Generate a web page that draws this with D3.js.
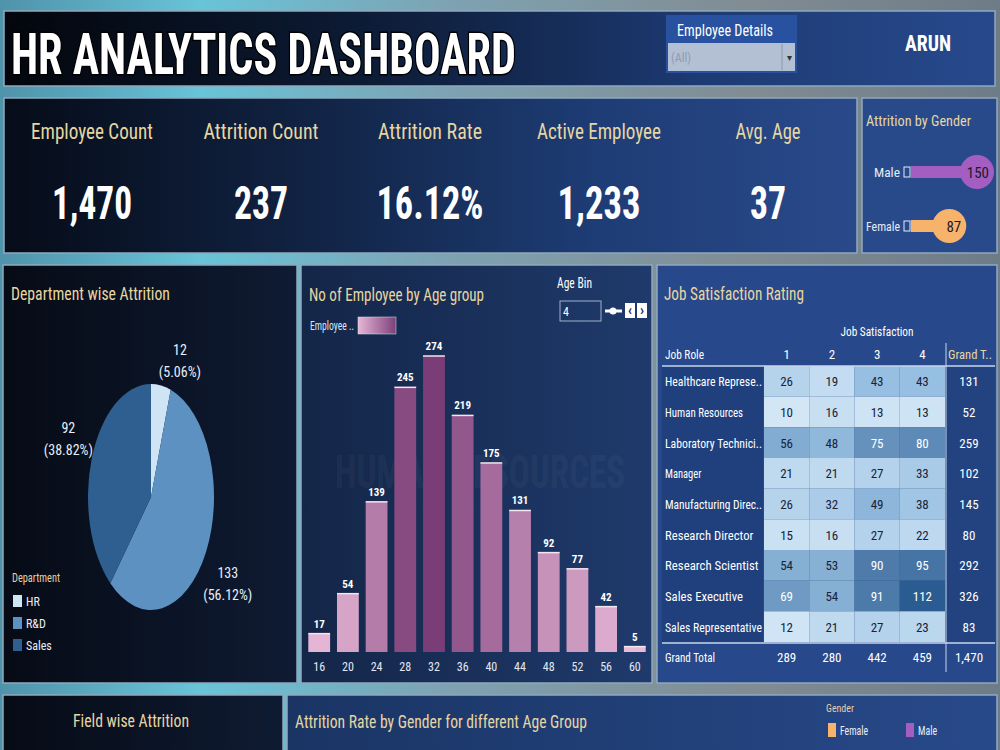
<!DOCTYPE html>
<html>
<head>
<meta charset="utf-8">
<script src="https://cdn.jsdelivr.net/npm/d3@7"></script>
<style>
  body { margin: 0; background: #6f8a9c; }
  svg { display: block; }
  text { font-family: "Roboto Condensed", "Liberation Sans Narrow", Roboto, sans-serif; }
</style>
</head>
<body>
<script>
// ---- data ----
const kpiLabels = ['Employee Count', 'Attrition Count', 'Attrition Rate', 'Active Employee', 'Avg. Age'];
const kpiValues = ['1,470', '237', '16.12%', '1,233', '37'];

const genders = ['Male', 'Female'];
const genderAttrition = [150, 87];

const departments = ['HR', 'R&D', 'Sales'];
const deptAttrition = [12, 133, 92];
const deptPct = ['5.06%', '56.12%', '38.82%'];

const ageBins = [16, 20, 24, 28, 32, 36, 40, 44, 48, 52, 56, 60];
const ageCounts = [17, 54, 139, 245, 274, 219, 175, 131, 92, 77, 42, 5];

const jobRoles = ['Healthcare Represe..', 'Human Resources', 'Laboratory Technici..', 'Manager',
  'Manufacturing Direc..', 'Research Director', 'Research Scientist', 'Sales Executive', 'Sales Representative'];
const satLevels = ['1', '2', '3', '4'];
const satValues = [
  [26, 19, 43, 43],
  [10, 16, 13, 13],
  [56, 48, 75, 80],
  [21, 21, 27, 33],
  [26, 32, 49, 38],
  [15, 16, 27, 22],
  [54, 53, 90, 95],
  [69, 54, 91, 112],
  [12, 21, 27, 23]
];
const rowTotals = [131, 52, 259, 102, 145, 80, 292, 326, 83];
const colTotals = [289, 280, 442, 459];
const grandTotal = '1,470';

// text widths (layout only) for the condensed dashboard font
const kpiLabelW = [122, 115, 104, 124, 65];
const kpiValueW = [80, 54, 107, 83, 36];

const W = 1000, H = 750;
const gold = '#e6d6a2';

const svg = d3.select('body').append('svg').attr('width', W).attr('height', H);
const defs = svg.append('defs');

function hGrad(id, stops) {
  const g = defs.append('linearGradient').attr('id', id).attr('x1', 0).attr('x2', 1).attr('y1', 0).attr('y2', 0);
  stops.forEach(s => g.append('stop').attr('offset', s[0]).attr('stop-color', s[1]));
}
hGrad('bgGrad', [[0, '#4f93aa'], [0.2, '#68c4d8'], [0.45, '#7ea2b2'], [0.75, '#818c93'], [1, '#6e7c88']]);
hGrad('titleGrad', [[0, '#03060c'], [0.35, '#0c1a33'], [0.7, '#1d3a72'], [1, '#27498c']]);
hGrad('kpiGrad', [[0, '#060c18'], [0.3, '#0f1f3c'], [0.7, '#1e3d76'], [1, '#29498a']]);
hGrad('ageGrad', [[0, '#142648'], [1, '#1f3a6c']]);
hGrad('deptGrad', [[0, '#060b15'], [1, '#0f1b33']]);
hGrad('botLGrad', [[0, '#060b15'], [1, '#0f1b33']]);
hGrad('botRGrad', [[0, '#1a3564'], [1, '#28498a']]);
hGrad('legGrad', [[0, '#e7b6d6'], [1, '#7d3f7a']]);

svg.append('rect').attr('width', W).attr('height', H).attr('fill', 'url(#bgGrad)');

// helper for text; len squeezes the text to the reference width
function txt(x, y, s, size, fill, opts = {}) {
  const t = svg.append('text').attr('x', x).attr('y', y).attr('font-size', size).attr('fill', fill)
    .attr('text-anchor', opts.anchor || 'start').text(s);
  if (opts.bold) t.attr('font-weight', 'bold');
  if (opts.len) t.attr('textLength', opts.len).attr('lengthAdjust', 'spacingAndGlyphs');
  return t;
}

function panel(x, y, w, h, fill) {
  svg.append('rect').attr('x', x).attr('y', y).attr('width', w).attr('height', h)
    .attr('fill', fill).attr('stroke', '#8fa9bd').attr('stroke-width', 1.5);
}
panel(4, 11, 991, 75, 'url(#titleGrad)');
panel(4, 98, 853, 155, 'url(#kpiGrad)');
panel(862, 98, 135, 155, '#284a8a');
panel(3, 265, 294, 418, 'url(#deptGrad)');
panel(301, 265, 351, 418, 'url(#ageGrad)');
panel(657, 265, 340, 418, '#27488a');
panel(3, 695, 280, 60, 'url(#botLGrad)');
panel(287, 695, 710, 60, 'url(#botRGrad)');

// ---- title bar ----
txt(11, 74, 'HR ANALYTICS DASHBOARD', 58, '#ffffff', { bold: true, len: 505 })
  .attr('stroke', '#000').attr('stroke-width', 3).attr('paint-order', 'stroke');

svg.append('rect').attr('x', 666).attr('y', 15).attr('width', 131).attr('height', 58).attr('fill', '#2852a0');
txt(677, 36, 'Employee Details', 16, '#ffffff', { len: 96 });
svg.append('rect').attr('x', 668).attr('y', 43).attr('width', 127).attr('height', 28).attr('fill', '#b3c0d4');
svg.append('line').attr('x1', 782).attr('x2', 782).attr('y1', 44).attr('y2', 70).attr('stroke', '#8c98ac');
txt(671, 62, '(All)', 12, '#8e9bb0');
txt(789, 61, '\u25BE', 10, '#333', { anchor: 'middle' });
txt(928, 51, 'ARUN', 22, '#ffffff', { anchor: 'middle', bold: true, len: 46 });

// ---- KPIs ----
const kpiX = d3.scalePoint().domain(kpiLabels).range([92, 768]);
kpiLabels.forEach((k, i) => {
  txt(kpiX(k), 139, k, 22, gold, { anchor: 'middle', len: kpiLabelW[i] });
  txt(kpiX(k), 219, kpiValues[i], 46, '#ffffff', { anchor: 'middle', bold: true, len: kpiValueW[i] });
});

// ---- attrition by gender ----
txt(866, 126, 'Attrition by Gender', 15, gold, { len: 105 });
const gY = d3.scalePoint().domain(genders).range([172, 226]);
const gX = d3.scaleLinear().domain([0, 150]).range([911, 977]);
const gColor = d3.scaleOrdinal().domain(genders).range(['#a45ec2', '#f7b26c']);
genders.forEach((g, i) => {
  const y = gY(g);
  txt(900, y + 5, g, 13, '#e6ecf6', { anchor: 'end', len: g === 'Male' ? 26 : 34 });
  svg.append('rect').attr('x', 904).attr('y', y - 5).attr('width', 6).attr('height', 10)
    .attr('fill', 'none').attr('stroke', '#e6ecf6').attr('stroke-width', 1);
  svg.append('rect').attr('x', gX(0)).attr('y', y - 6).attr('width', gX(genderAttrition[i]) - gX(0)).attr('height', 12)
    .attr('fill', gColor(g));
  svg.append('circle').attr('cx', gX(genderAttrition[i])).attr('cy', y).attr('r', 17).attr('fill', gColor(g));
  txt(gX(genderAttrition[i]) + 12, y + 6, genderAttrition[i], 15, '#1a1a2a', { anchor: 'end' });
});

// ---- department pie ----
txt(11, 300, 'Department wise Attrition', 19, gold, { len: 159 });
const deptColor = d3.scaleOrdinal().domain(departments).range(['#cfe5f6', '#5d91c2', '#2f5f90']);
const pie = d3.pie().sort(null).value(d => d.v);
const arcs = pie(departments.map((d, i) => ({ d, v: deptAttrition[i] })));
const cx = 151, cy = 497, rx = 63, ry = 113;
const arc = d3.arc().innerRadius(0).outerRadius(rx);
const pieG = svg.append('g').attr('transform', `translate(${cx},${cy}) scale(1,${ry / rx})`);
pieG.selectAll('path').data(arcs).enter().append('path')
  .attr('d', arc).attr('fill', d => deptColor(d.data.d));
arcs.forEach((a, i) => {
  const m = (a.startAngle + a.endAngle) / 2;
  let x = cx + Math.sin(m) * 88, y = cy - Math.cos(m) * 175;
  if (a.endAngle - a.startAngle < 0.5) { x += 15; y += 35; } // small slice label sits right of the tip
  const t = svg.append('text').attr('text-anchor', 'middle').attr('fill', '#e8eef8').attr('font-size', 14);
  t.append('tspan').attr('x', x).attr('y', y - 4).text(deptAttrition[i]);
  t.append('tspan').attr('x', x).attr('y', y + 18).text('(' + deptPct[i] + ')');
});
txt(12, 582, 'Department', 12, '#e6cfa8', { len: 48 });
departments.forEach((d, i) => {
  svg.append('rect').attr('x', 13).attr('y', 595 + i * 22).attr('width', 9).attr('height', 12).attr('fill', deptColor(d));
  txt(26, 606 + i * 22, d, 12, '#e8eef8');
});

// ---- age group bars ----
txt(309, 301, 'No of Employee by Age group', 19, gold, { len: 175 });
txt(310, 330, 'Employee ..', 12, '#dfe4ee', { len: 44 });
svg.append('rect').attr('x', 358).attr('y', 317).attr('width', 38).attr('height', 17).attr('fill', 'url(#legGrad)')
  .attr('stroke', '#dfe4ee').attr('stroke-width', 0.5);
txt(557, 288, 'Age Bin', 14, '#ffffff', { len: 35 });
svg.append('rect').attr('x', 560).attr('y', 301).attr('width', 41).attr('height', 20).attr('fill', 'none')
  .attr('stroke', '#9fb2cc').attr('stroke-width', 1);
txt(563, 316, '4', 12, '#ffffff');
svg.append('line').attr('x1', 605).attr('x2', 622).attr('y1', 311).attr('y2', 311).attr('stroke', '#ffffff').attr('stroke-width', 3);
svg.append('circle').attr('cx', 613).attr('cy', 311).attr('r', 3.5).attr('fill', '#ffffff');
[[625, '\u2039'], [637, '\u203A']].forEach(b => {
  svg.append('rect').attr('x', b[0]).attr('y', 303).attr('width', 10).attr('height', 15).attr('fill', '#ffffff');
  txt(b[0] + 5, 315, b[1], 15, '#1f2f55', { anchor: 'middle', bold: true });
});
// faint watermark from the background image
txt(480, 488, 'HUMAN RESOURCES', 46, '#ffffff', { anchor: 'middle', bold: true, len: 290 }).attr('fill-opacity', 0.05);

const xB = d3.scaleBand().domain(ageBins).range([306, 648]).paddingInner(0.24).paddingOuter(0.08);
const yB = d3.scaleLinear().domain([0, 274]).range([652, 356]);
const barColor = d3.scaleLinear().domain([5, 274]).range(['#eabbd9', '#7b3d78']);
const bars = svg.append('g');
bars.selectAll('rect').data(ageBins).enter().append('rect')
  .attr('x', d => xB(d)).attr('y', (d, i) => yB(ageCounts[i]))
  .attr('width', xB.bandwidth()).attr('height', (d, i) => yB(0) - yB(ageCounts[i]))
  .attr('fill', (d, i) => barColor(ageCounts[i]));
bars.selectAll('line').data(ageBins).enter().append('line')
  .attr('x1', d => xB(d)).attr('x2', d => xB(d) + xB.bandwidth())
  .attr('y1', (d, i) => yB(ageCounts[i])).attr('y2', (d, i) => yB(ageCounts[i]))
  .attr('stroke', '#f3e6f0').attr('stroke-width', 1.5);
bars.selectAll('text.v').data(ageBins).enter().append('text')
  .attr('x', d => xB(d) + xB.bandwidth() / 2).attr('y', (d, i) => yB(ageCounts[i]) - 6)
  .attr('text-anchor', 'middle').attr('fill', '#ffffff').attr('font-size', 11).attr('font-weight', 'bold')
  .text((d, i) => ageCounts[i]);
const xAxis = svg.append('g').attr('transform', 'translate(0,652)')
  .call(d3.axisBottom(xB).tickSize(0).tickPadding(10));
xAxis.select('.domain').remove();
xAxis.selectAll('text').attr('fill', '#e3e8f2').attr('font-size', 12)
  .attr('font-family', '"Roboto Condensed", "Liberation Sans Narrow", Roboto, sans-serif');

// ---- job satisfaction table ----
txt(664, 300, 'Job Satisfaction Rating', 19, gold, { len: 140 });
const colX = d3.scaleBand().domain(satLevels).range([764, 945]);
const rowY = d3.scaleBand().domain(jobRoles).range([366, 642]);
const heat = d3.scaleLinear().domain([10, 40, 112]).range(['#d3e6f6', '#9cc3e4', '#2b5c91']);
svg.append('rect').attr('x', 662).attr('y', 366).attr('width', 101).attr('height', 276).attr('fill', '#1f3f7d');
svg.append('rect').attr('x', 947).attr('y', 366).attr('width', 48).attr('height', 276).attr('fill', '#22437f');
txt(877, 336, 'Job Satisfaction', 13, '#ffffff', { anchor: 'middle', len: 73 });
txt(665, 359, 'Job Role', 13, '#ffffff', { len: 39 });
satLevels.forEach(s => txt(colX(s) + colX.bandwidth() / 2, 359, s, 13, '#ffffff', { anchor: 'middle' }));
txt(948, 359, 'Grand T..', 13, gold, { len: 44 });

jobRoles.forEach((r, i) => {
  const y = rowY(r), h = rowY.bandwidth();
  txt(665, y + h / 2 + 5, r, 13, '#ffffff', { len: Math.min(97, r.length * 5.2) });
  satLevels.forEach((s, j) => {
    const v = satValues[i][j];
    svg.append('rect').attr('x', colX(s)).attr('y', y).attr('width', colX.bandwidth()).attr('height', h)
      .attr('fill', heat(v));
    txt(colX(s) + colX.bandwidth() / 2, y + h / 2 + 5, v, 13, v >= 60 ? '#ffffff' : '#17233a', { anchor: 'middle' });
  });
  txt(969, y + h / 2 + 5, rowTotals[i], 13, '#ffffff', { anchor: 'middle' });
});
svg.append('line').attr('x1', 662).attr('x2', 995).attr('y1', 366).attr('y2', 366).attr('stroke', '#c9d6ea').attr('stroke-width', 1.5);
svg.append('line').attr('x1', 662).attr('x2', 995).attr('y1', 643).attr('y2', 643).attr('stroke', '#c9d6ea').attr('stroke-width', 1.5);
svg.append('line').attr('x1', 946).attr('x2', 946).attr('y1', 343).attr('y2', 672).attr('stroke', '#c9d6ea').attr('stroke-width', 1);
txt(665, 662, 'Grand Total', 13, '#ffffff', { len: 50 });
satLevels.forEach((s, j) => txt(colX(s) + colX.bandwidth() / 2, 662, colTotals[j], 13, '#ffffff', { anchor: 'middle' }));
txt(969, 662, grandTotal, 13, '#ffffff', { anchor: 'middle' });

// ---- bottom row ----
txt(131, 727, 'Field wise Attrition', 19, gold, { anchor: 'middle', len: 116 });
txt(295, 728, 'Attrition Rate by Gender for different Age Group', 19, gold, { len: 292 });
txt(826, 712, 'Gender', 11, '#e6cfa8', { len: 28 });
[['Female', 828, 28], ['Male', 906, 19]].forEach(g => {
  svg.append('rect').attr('x', g[1]).attr('y', 723).attr('width', 8).attr('height', 14).attr('fill', gColor(g[0]));
  txt(g[1] + 12, 735, g[0], 12, '#e8eef8', { len: g[2] });
});
</script>
</body>
</html>
